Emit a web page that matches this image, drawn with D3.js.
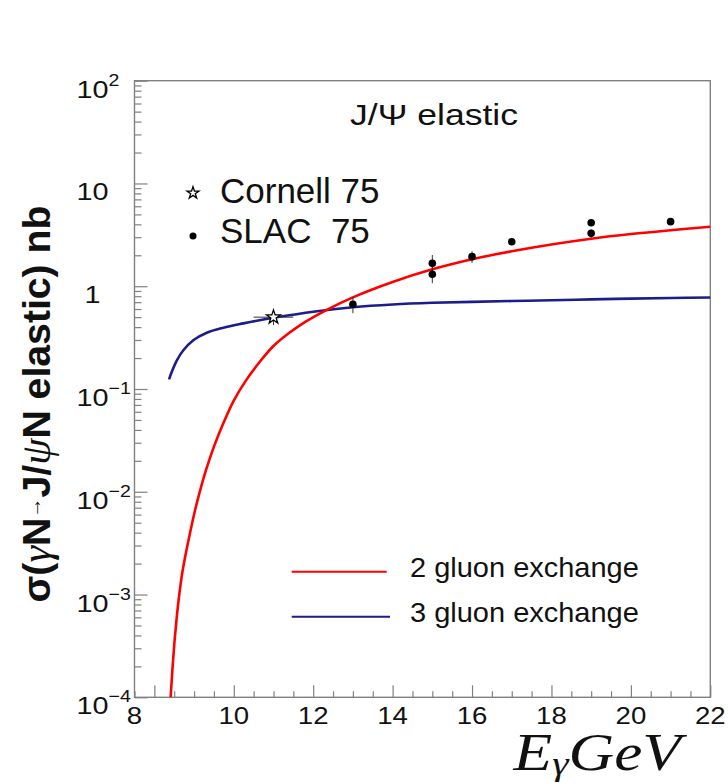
<!DOCTYPE html>
<html><head><meta charset="utf-8">
<script src="https://cdn.jsdelivr.net/npm/d3@7"></script>
<style>body{margin:0;background:#fff}svg{display:block;font-family:"Liberation Sans",Arial,Helvetica,sans-serif}</style>
</head><body>
<svg id="c" width="728" height="783"></svg>
<script>
// ---------------- data ----------------
const twoGluonE     = [8.41, 8.46, 8.51, 8.56, 8.61, 8.70, 8.80, 8.90, 9.02, 9.15, 9.30, 9.50, 9.70, 10.0, 10.3, 10.66, 11.0, 11.4, 11.8, 12.38, 13.0, 14.0, 15.0, 16.0, 17.0, 18.0, 19.0, 20.0, 21.0, 22.0];
const twoGluonSigma = [1.0e-4, 2.0e-4, 3.6e-4, 5.8e-4, 8.8e-4, 1.6e-3, 2.6e-3, 4.0e-3, 6.5e-3, 0.0102, 0.0162, 0.0275, 0.043, 0.077, 0.120, 0.185, 0.262, 0.352, 0.45, 0.60, 0.78, 1.10, 1.46, 1.83, 2.19, 2.55, 2.90, 3.22, 3.51, 3.79];
const threeGluonE     = [8.37, 8.44, 8.56, 8.73, 8.98, 9.32, 9.74, 10.24, 10.58, 11, 12, 13, 14, 15, 16, 17, 18, 19, 20, 21, 22];
const threeGluonSigma = [0.124, 0.147, 0.188, 0.238, 0.298, 0.353, 0.395, 0.435, 0.462, 0.493, 0.565, 0.625, 0.665, 0.690, 0.705, 0.718, 0.731, 0.745, 0.757, 0.768, 0.777];
const slacE     = [13, 15, 15, 16, 17, 19, 19, 21];
const slacSigma = [0.667, 1.67, 1.31, 1.94, 2.71, 4.15, 3.27, 4.25];
const slacErr   = [0.12, 0.34, 0.24, 0.25, 0.2, 0.3, 0.3, 0.3];
const cornellE = [11], cornellSigma = [0.50], cornellErrY = [0.08], cornellErrX = [0.5];
const xTicks = [8, 10, 12, 14, 16, 18, 20, 22];
const xTickLabels = ["8", "10", "12", "14", "16", "18", "20", "22"];
const yTicks = [1e-4, 1e-3, 1e-2, 1e-1, 1, 10, 100];
const yTickBase = ["10", "10", "10", "10", "1", "10", "10"];
const yTickExp  = ["-4", "-3", "-2", "-1", "", "", "2"];
const legendLabels = ["2 gluon exchange", "3 gluon exchange"];
const dataLegend = ["Cornell 75", "SLAC  75"];

// ---------------- layout ----------------
const L = 134.5, R = 710.3, T = 80.7, B = 697.3;
const svg = d3.select("#c");
const x = d3.scaleLinear().domain([7.5, 22]).range([L, R]);
const y = d3.scaleLog().domain([1e-4, 1e2]).range([B, T]);
const grey = "#808080";
const serif = "'Liberation Serif','Times New Roman',serif";
function fit(sel, tx, ty, w, extra) {
  const bw = sel.node().getBBox().width;
  sel.attr("transform", `translate(${tx},${ty}) ${extra || ""} scale(${w / bw},1)`);
}

svg.append("defs").append("clipPath").attr("id", "clip")
  .append("rect").attr("x", L).attr("y", T).attr("width", R - L).attr("height", B - T);

// frame
svg.append("rect").attr("x", L).attr("y", T).attr("width", R - L).attr("height", B - T)
  .attr("fill", "none").attr("stroke", grey).attr("stroke-width", 1.4);

// axes ticks
const xMinor = d3.range(7.5, 22.01, 0.5).filter(v => !xTicks.includes(v));
function styleAxis(g) { g.select(".domain").remove(); g.selectAll("line").attr("stroke", grey).attr("stroke-width", 1.2); g.selectAll("text").remove(); }
svg.append("g").attr("transform", `translate(0,${B})`).call(d3.axisTop(x).tickValues(xTicks).tickSize(12)).call(styleAxis);
svg.append("g").attr("transform", `translate(0,${B})`).call(d3.axisTop(x).tickValues(xMinor).tickSize(6)).call(styleAxis);
const yMinor = y.ticks().filter(v => !yTicks.some(t => Math.abs(t - v) / t < 1e-6));
svg.append("g").attr("transform", `translate(${L},0)`).call(d3.axisRight(y).tickValues(yTicks).tickSize(13)).call(styleAxis);
svg.append("g").attr("transform", `translate(${L},0)`).call(d3.axisRight(y).tickValues(yMinor).tickSize(7)).call(styleAxis);

// x tick labels
xTicks.forEach((v, i) => {
  const px = i === 0 ? L : x(v);
  svg.append("text").attr("transform", `translate(${px},724.3) scale(1.15,1)`)
    .attr("text-anchor", "middle").attr("font-size", 24).attr("fill", "#111").text(xTickLabels[i]);
});
// y tick labels
yTicks.forEach((v, i) => {
  const py = y(v);
  svg.append("text").attr("transform", `translate(92.5,${py + 17}) scale(1.2,1)`)
    .attr("text-anchor", "middle").attr("font-size", 24).attr("fill", "#111").text(yTickBase[i]);
  if (yTickExp[i]) {
    svg.append("text").attr("transform", `translate(108.5,${py + 5}) scale(1.15,1)`)
      .attr("text-anchor", "start").attr("font-size", 17).attr("fill", "#111").text(yTickExp[i].replace("-", "\u2212"));
  }
});

// y axis title
const yt = svg.append("text").attr("text-anchor", "middle").attr("font-size", 39).attr("font-weight", "bold").attr("fill", "#111");
yt.append("tspan").text("σ(");
yt.append("tspan").attr("font-family", serif).attr("font-style", "italic").attr("font-weight", "normal").attr("font-size", 42).text("γ");
yt.append("tspan").text("N");
yt.append("tspan").attr("font-size", 20).attr("font-weight", "normal").attr("dy", -9).text("\u2192");
yt.append("tspan").attr("dy", 9).text("J/");
yt.append("tspan").attr("font-family", serif).attr("font-style", "italic").attr("font-weight", "normal").attr("font-size", 42).text("ψ");
yt.append("tspan").text("N elastic) nb");
fit(yt, 50, 404, 397, "rotate(-90)");

// x axis title
const xt = svg.append("text").attr("text-anchor", "end")
  .attr("font-family", serif).attr("font-style", "italic").attr("font-size", 52).attr("fill", "#111");
xt.append("tspan").text("E");
xt.append("tspan").attr("font-size", 34).attr("dy", 5).text("γ");
xt.append("tspan").attr("dy", -5).text("GeV");
fit(xt, 681, 770, 175);

// title
const tt = svg.append("text").attr("font-size", 29).attr("fill", "#111").text("J/Ψ elastic");
fit(tt, 350, 125, 168);

// curves
const line = d3.line().x(d => x(d[0])).y(d => y(d[1])).curve(d3.curveCatmullRom.alpha(0.5));
const plot = svg.append("g").attr("clip-path", "url(#clip)");
plot.append("path").datum(threeGluonE.map((e, i) => [e, threeGluonSigma[i]]))
  .attr("d", line).attr("fill", "none").attr("stroke", "#1c1c8a").attr("stroke-width", 2.6);
plot.append("path").datum(twoGluonE.map((e, i) => [e, twoGluonSigma[i]]))
  .attr("d", line).attr("fill", "none").attr("stroke", "#ff0000").attr("stroke-width", 2.6);

// SLAC points
slacE.forEach((e, i) => {
  plot.append("line").attr("x1", x(e)).attr("x2", x(e))
    .attr("y1", y(slacSigma[i] - slacErr[i])).attr("y2", y(slacSigma[i] + slacErr[i]))
    .attr("stroke", "#333").attr("stroke-width", 1);
  plot.append("circle").attr("cx", x(e)).attr("cy", y(slacSigma[i])).attr("r", 3.8).attr("fill", "#000");
});
// Cornell
cornellE.forEach((e, i) => {
  plot.append("line").attr("x1", x(e)).attr("x2", x(e))
    .attr("y1", y(cornellSigma[i] - cornellErrY[i])).attr("y2", y(cornellSigma[i] + cornellErrY[i]))
    .attr("stroke", "#333").attr("stroke-width", 1);
  plot.append("line").attr("x1", x(e - cornellErrX[i])).attr("x2", x(e + cornellErrX[i]))
    .attr("y1", y(cornellSigma[i])).attr("y2", y(cornellSigma[i]))
    .attr("stroke", "#333").attr("stroke-width", 1);
  plot.append("path").attr("d", d3.symbol(d3.symbolStar, 60)())
    .attr("transform", `translate(${x(e)},${y(cornellSigma[i])})`)
    .attr("fill", "#fff").attr("stroke", "#000").attr("stroke-width", 1.3);
});

// data legend
svg.append("path").attr("d", d3.symbol(d3.symbolStar, 45)()).attr("transform", "translate(193,193)")
  .attr("fill", "#fff").attr("stroke", "#000").attr("stroke-width", 1.3);
svg.append("circle").attr("cx", 193).attr("cy", 236).attr("r", 3.5).attr("fill", "#000");
svg.append("text").attr("x", 220).attr("y", 203.3).attr("font-size", 35).attr("fill", "#111").text(dataLegend[0]);
svg.append("text").attr("x", 220).attr("y", 243.3).attr("font-size", 35).attr("fill", "#111")
  .style("white-space", "pre").text(dataLegend[1]);

// curve legend
const legColors = ["#ff0000", "#1c1c8a"];
legendLabels.forEach((lab, i) => {
  const ly = 571.7 + i * 45;
  svg.append("line").attr("x1", 291.7).attr("x2", i ? 390 : 386.7).attr("y1", ly).attr("y2", ly)
    .attr("stroke", legColors[i]).attr("stroke-width", 2);
  const t = svg.append("text").attr("font-size", 27).attr("fill", "#111").text(lab);
  fit(t, 410, ly + 5, 229);
});
</script>
</body></html>
